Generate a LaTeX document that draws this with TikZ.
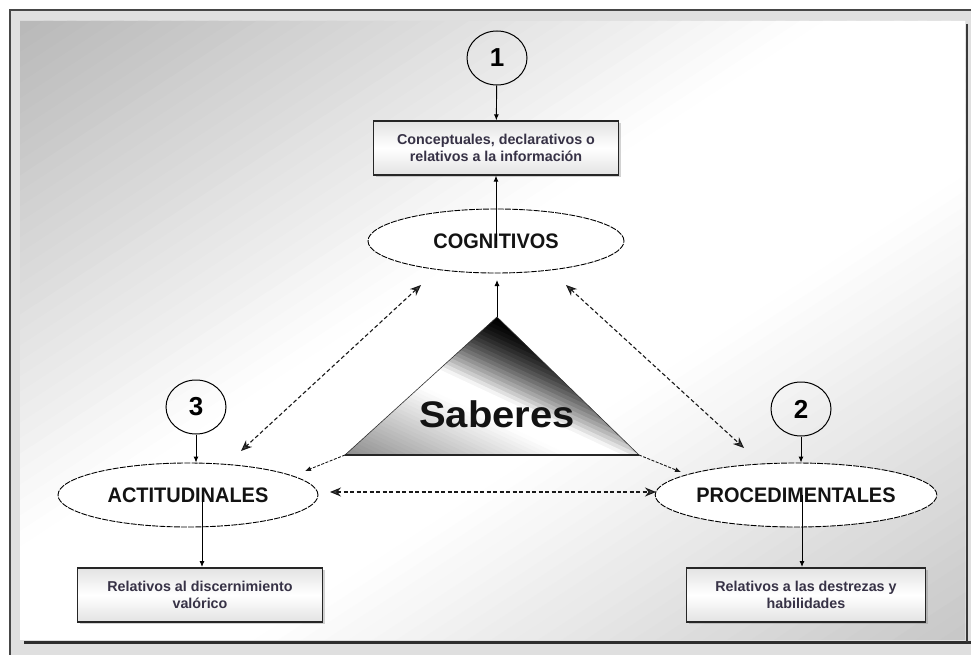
\documentclass[tikz,border=0pt]{standalone}
\usepackage{fontspec}
\setmainfont{Liberation Sans}
\newfontfamily\narrowfont[FakeStretch=0.95]{Liberation Sans}
\newfontfamily\wideboldfont[FakeStretch=1.08]{Liberation Sans}
\usetikzlibrary{arrows.meta,shapes.geometric,shadows}
\definecolor{boxtext}{RGB}{55,50,70}
\definecolor{framedark}{RGB}{70,70,70}
\tikzset{
  descbox/.style={draw=gray!30!black, line width=1.3pt, rectangle,
    top color=gray!22, bottom color=gray!22, middle color=white,
    minimum width=#1, minimum height=54pt, align=center,
    font=\fontsize{14.3}{17}\selectfont\bfseries, text=boxtext,
    drop shadow={shadow xshift=2pt, shadow yshift=-2pt, opacity=0.35}},
  bigell/.style={ellipse, draw=black, line width=0.9pt, dash pattern=on 6pt off 1.2pt,
    fill=white, minimum width=#1, minimum height=64pt, inner sep=0pt,
    font=\narrowfont\fontsize{21}{24}\selectfont\bfseries, text=gray!15!black},
  numell/.style={ellipse, draw=black, line width=1pt, minimum width=60pt, minimum height=54pt,
    inner sep=0pt, font=\fontsize{26}{28}\selectfont\bfseries},
  solidarrow/.style={draw=black, line width=0.9pt, -{Latex[length=6pt,width=5pt]}},
  cornerarrow/.style={draw=gray!20!black, line width=0.9pt, dash pattern=on 3pt off 1.5pt, -{Latex[length=6pt,width=5pt]}},
  dasharrow/.style={draw=gray!20!black, line width=1.1pt, dash pattern=on 4pt off 2.5pt,
    {Stealth[length=11pt,width=9pt,fill=gray!55!black]}-{Stealth[length=11pt,width=9pt,fill=gray!55!black]}}
}
\begin{document}
\begin{tikzpicture}[x=1pt,y=-1pt]
\useasboundingbox (0,0) rectangle (971,655);
\fill[white] (0,0) rectangle (971,655);
% frame
\fill[gray!25] (11,11) rectangle (971,655);
\begin{scope}
\clip (20,21) rectangle (965,639);
\foreach \i in {0,...,79} {
  \pgfmathsetmacro{\ta}{\i/40}
  \pgfmathsetmacro{\tb}{(\i+1.4)/40}
  \pgfmathsetmacro{\tm}{(\i+0.5)/40}
  \pgfmathsetmacro{\g}{\tm<0.85 ? 0.72+0.28*\tm/0.85 : (\tm<1.25 ? 1 : 1-0.22*(\tm-1.25)/0.75)}
  \pgfmathsetmacro{\bk}{100*(1-\g)}
  \fill[black!\bk] ({20+\ta*945},21) -- ({20+\tb*945},21) -- (20,{21+\tb*618}) -- (20,{21+\ta*618}) -- cycle;
}
\end{scope}
\draw[framedark, line width=2.5pt] (10,655) -- (10,10) -- (971,10);
\draw[gray!35!black, line width=3pt] (24,642) -- (971,642);
\draw[gray!45!black, line width=2.5pt] (967,24) -- (967,642);

% triangle
\coordinate (apex) at (497,317);
\coordinate (tl) at (345,455);
\coordinate (tr) at (639,455);
\begin{scope}
\clip (apex) -- (tl) -- (tr) -- cycle;
\foreach \i in {0,...,49} {
  \pgfmathsetmacro{\fa}{\i/50}
  \pgfmathsetmacro{\fb}{(\i+1.4)/50}
  \pgfmathsetmacro{\fm}{(\i+0.5)/50}
  \pgfmathsetmacro{\sa}{-77-189*\fa+161.6}
  \pgfmathsetmacro{\sb}{-77-189*\fb+161.6}
  \pgfmathsetmacro{\xa}{494+\sa*0.423}
  \pgfmathsetmacro{\ya}{409-\sa*0.906}
  \pgfmathsetmacro{\xb}{494+\sb*0.423}
  \pgfmathsetmacro{\yb}{409-\sb*0.906}
  \pgfmathsetmacro{\g}{\fm<0.38 ? (\fm/0.38)^1.6 : (\fm<0.5 ? 1 : 1-0.45*(\fm-0.5)/0.5)}
  \pgfmathsetmacro{\bk}{100*(1-\g)}
  \fill[black!\bk] ({\xa-271.8},{\ya-126.9}) -- ({\xa+271.8},{\ya+126.9}) -- ({\xb+271.8},{\yb+126.9}) -- ({\xb-271.8},{\yb-126.9}) -- cycle;
}
\end{scope}
\draw[gray!40!black, line width=0.6pt] (apex) -- (tl) -- (tr) -- cycle;
\draw[gray!30!black, line width=2pt] (tl) -- (tr);
\node[font=\wideboldfont\fontsize{37}{40}\selectfont\bfseries, text=gray!15!black] (sab) at (497,414) {Saberes};

% nodes
\node[numell] (n1) at (497,58) {1};
\node[numell] (n3) at (196,407) {3};
\node[numell] (n2) at (801,409) {2};

\node[descbox=245pt] (b1) at (496,148) {Conceptuales, declarativos o\\relativos a la información};
\node[descbox=245pt] (b3) at (200,595) {Relativos al discernimiento\\valórico};
\node[descbox=239pt] (b2) at (806,595) {Relativos a las destrezas y\\habilidades};

% connector lines behind ellipses' text
\draw[solidarrow] (496,241) -- (b1.south);
\draw[solidarrow] (202,495) -- (202,567);
\draw[solidarrow] (802,495) -- (802,567);

\node[bigell=256pt] (cog) at (496,241) {COGNITIVOS};
\node[bigell=260pt] (act) at (188,495) {ACTITUDINALES};
\node[bigell=262pt] (pro) at (796,495) {PROCEDIMENTALES};

% redraw vertical lines over ellipse interiors
\draw[black, line width=0.9pt] (496,241) -- (cog.north);
\draw[black, line width=0.9pt] (202,495) -- (202,528);
\draw[black, line width=0.9pt] (802,495) -- (802,528);

\draw[solidarrow] (n1) -- (b1);
\draw[solidarrow] (n3) -- (n3 |- act.north);
\draw[solidarrow] (n2) -- (n2 |- pro.north);
\draw[solidarrow] (apex) -- (497,280);

% dashed connectors
\coordinate (cogSW) at (421,285);
\coordinate (actNE) at (241,451);
\coordinate (cogSE) at (566,285);
\coordinate (proNW) at (744,448);
\coordinate (actE) at (330,492);
\coordinate (proW) at (656,492);
\coordinate (actP) at (305,471);
\coordinate (proP) at (681,472);
\draw[dasharrow] (cogSW) -- (actNE);
\draw[dasharrow] (cogSE) -- (proNW);
\draw[dasharrow] (actE) -- (proW);
\draw[cornerarrow] (tl) -- (actP);
\draw[cornerarrow] (tr) -- (proP);
\end{tikzpicture}
\end{document}
